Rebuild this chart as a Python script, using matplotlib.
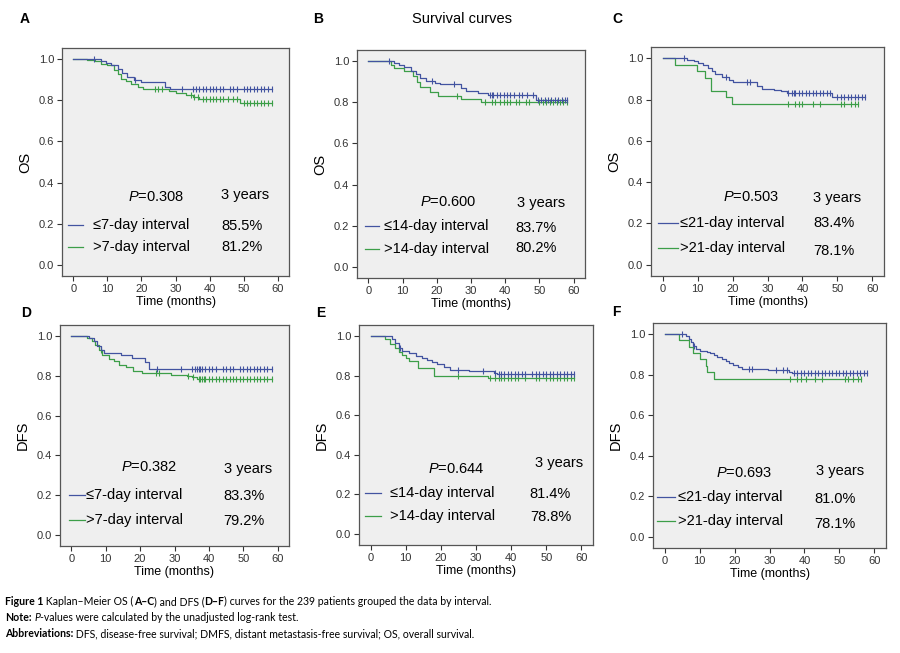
import numpy as np
import matplotlib
matplotlib.use("Agg")
import matplotlib.pyplot as plt
from matplotlib.ticker import FormatStrFormatter

plt.rcParams['font.family'] = ['Liberation Sans', 'DejaVu Sans']
plt.rcParams['mathtext.fontset'] = 'custom'
plt.rcParams['mathtext.rm'] = 'Liberation Sans'
plt.rcParams['mathtext.it'] = 'Liberation Sans:italic'

BLUE = '#4253a0'
GREEN = '#3c9e48'

# ---- data (event times, survival after event, censor times)
# A : OS, 7-day interval
a_blue_t = [8, 9.5, 11, 13, 14.3, 15.8, 17.7, 20, 27, 28.4]
a_blue_s = [0.99, 0.98, 0.97, 0.955, 0.935, 0.915, 0.90, 0.89, 0.865, 0.855]
a_blue_c = [6, 18, 32, 35, 36, 37, 38, 39, 40, 41, 42, 43, 44, 46, 47, 48,
            50, 51, 52, 53, 54, 55, 56, 57, 58.3]
a_green_t = [4, 6.5, 8, 10, 12, 13, 14, 15.5, 17, 19, 20.5, 28, 30, 33, 35, 37, 49]
a_green_s = [0.995, 0.99, 0.975, 0.97, 0.95, 0.93, 0.905, 0.895, 0.88, 0.865,
             0.855, 0.845, 0.835, 0.825, 0.815, 0.805, 0.788]
a_green_c = [24, 25, 26, 34.5, 35.5, 36.5, 38, 39, 40, 41, 42, 43, 44, 45.5, 47, 48,
             50, 51, 52, 53, 54, 55, 56, 57, 58.3]

# B : OS, 14-day interval
b_blue_t = [7.5, 9, 10.5, 12.5, 14, 15, 17, 19.5, 21, 27, 28.5, 32, 35, 49]
b_blue_s = [0.99, 0.98, 0.97, 0.955, 0.937, 0.92, 0.905, 0.895, 0.888, 0.87,
            0.857, 0.847, 0.837, 0.81]
b_blue_c = [6, 18.5, 25, 35.5, 36, 36.5, 37.5, 38.5, 39.5, 40.5, 41.5, 42.5, 44, 45,
            46.5, 48, 49.5, 50.5, 51.5, 52.5, 53.5, 54.5, 55.5, 56.5, 57.5, 58]
b_green_t = [6.5, 7.5, 10.5, 13, 14.2, 15.2, 18, 20.5, 27, 33]
b_green_s = [0.982, 0.965, 0.955, 0.93, 0.90, 0.875, 0.85, 0.83, 0.817, 0.803]
b_green_c = [26, 34, 36, 37, 38.5, 39.5, 40.5, 41.5, 43, 44, 46, 47, 50, 51, 52, 53,
             54, 55, 56, 57, 58]

# C : OS, 21-day interval
c_blue_t = [7, 9, 10, 11.5, 13, 14, 15, 17, 19, 20, 27, 28.5, 32, 34, 35.5, 48.5]
c_blue_s = [0.99, 0.985, 0.978, 0.968, 0.955, 0.94, 0.922, 0.912, 0.895, 0.885,
            0.868, 0.853, 0.848, 0.84, 0.834, 0.812]
c_blue_c = [6, 18, 24, 25, 36, 37, 37.5, 38, 39, 40, 41, 42, 43, 44, 45, 46, 47, 48,
            50, 51, 52, 53, 54, 55, 56, 57, 58]
c_green_t = [3.7, 9.9, 12, 13.9, 18, 19.9]
c_green_s = [0.969, 0.938, 0.906, 0.844, 0.812, 0.781]
c_green_c = [36, 38, 39, 40, 43, 45, 51, 52, 54, 55, 56]

# D : DFS, 7-day interval
d_blue_t = [5, 6.5, 7.5, 8.5, 9.5, 14.5, 17.5, 21.5, 22.5]
d_blue_s = [0.99, 0.975, 0.952, 0.93, 0.916, 0.904, 0.887, 0.869, 0.833]
d_blue_c = [25, 32, 35, 36, 36.5, 37, 37.5, 38, 39, 40, 41, 42, 44, 45, 46, 47, 49,
            50, 51, 52, 53, 54, 55, 56, 57, 58.3]
d_green_t = [4.5, 6, 7, 8, 9, 11, 12.5, 14, 16, 18, 20.5, 29, 33.5, 35, 36.5]
d_green_s = [0.99, 0.975, 0.955, 0.93, 0.905, 0.884, 0.872, 0.856, 0.843, 0.825,
             0.812, 0.804, 0.80, 0.795, 0.785]
d_green_c = [8.5, 24.5, 25.5, 34, 35.5, 37, 37.5, 38, 38.5, 39, 40, 41, 42, 43, 44,
             45, 46, 47, 48, 49, 50, 51, 52, 53, 54, 55, 56, 57, 58.3]

# E : DFS, 14-day interval
e_blue_t = [6, 7, 8, 9, 11, 13, 14.5, 16, 17.5, 19, 21, 22.5, 28, 35, 36]
e_blue_s = [0.985, 0.963, 0.94, 0.925, 0.912, 0.897, 0.886, 0.877, 0.866, 0.856,
            0.842, 0.828, 0.823, 0.814, 0.807]
e_blue_c = [8.5, 25, 32, 35.5, 36.5, 37, 38, 39, 40, 41, 42, 43, 44, 46, 47, 48, 49,
            50, 51, 52, 53, 54, 55, 56, 57, 58]
e_green_t = [4, 5.5, 7, 8, 9, 10, 11, 13.5, 18, 33.5]
e_green_s = [0.985, 0.96, 0.94, 0.921, 0.905, 0.89, 0.873, 0.84, 0.797, 0.789]
e_green_c = [25, 34, 35.5, 36.5, 37, 38, 39, 40, 41, 42, 44, 47, 48, 50, 51, 52, 53,
             54, 55, 56, 57, 58]

# F : DFS, 21-day interval
f_blue_t = [6, 7, 7.5, 8, 9, 10, 12, 13, 14, 15, 16.5, 17.5, 18.5, 19.5, 21, 22,
            29.5, 35.5, 36.5]
f_blue_s = [0.99, 0.975, 0.96, 0.94, 0.925, 0.915, 0.91, 0.905, 0.895, 0.885, 0.875,
            0.866, 0.856, 0.849, 0.84, 0.83, 0.825, 0.815, 0.808]
f_blue_c = [5, 8.5, 24, 25, 32, 34, 35, 37, 38, 39, 40, 41, 42, 43, 44, 45, 46, 47,
            48, 49, 50, 51, 52, 53, 54, 55, 56, 57, 58]
f_green_t = [4.2, 7.1, 8.0, 10.0, 11.9, 12.2, 14.0]
f_green_s = [0.969, 0.938, 0.906, 0.875, 0.844, 0.812, 0.781]
f_green_c = [36, 38, 39, 40.5, 43, 45, 51.5, 52.5, 54, 55.3, 56.2]

letters = ['A', 'B', 'C', 'D', 'E', 'F']
ylabels = ['OS', 'OS', 'OS', 'DFS', 'DFS', 'DFS']
p_values = ['0.308', '0.600', '0.503', '0.382', '0.644', '0.693']
group_blue = ['≤7-day interval', '≤14-day interval', '≤21-day interval',
              '≤7-day interval', '≤14-day interval', '≤21-day interval']
group_green = ['>7-day interval', '>14-day interval', '>21-day interval',
               '>7-day interval', '>14-day interval', '>21-day interval']
pct_blue = ['85.5%', '83.7%', '83.4%', '83.3%', '81.4%', '81.0%']
pct_green = ['81.2%', '80.2%', '78.1%', '79.2%', '78.8%', '78.1%']

curves = [
    (a_blue_t, a_blue_s, a_blue_c, a_green_t, a_green_s, a_green_c),
    (b_blue_t, b_blue_s, b_blue_c, b_green_t, b_green_s, b_green_c),
    (c_blue_t, c_blue_s, c_blue_c, c_green_t, c_green_s, c_green_c),
    (d_blue_t, d_blue_s, d_blue_c, d_green_t, d_green_s, d_green_c),
    (e_blue_t, e_blue_s, e_blue_c, e_green_t, e_green_s, e_green_c),
    (f_blue_t, f_blue_s, f_blue_c, f_green_t, f_green_s, f_green_c),
]

W, H = 900, 653
# axes boxes in pixels: left, top, right, bottom
boxes = [(62, 48, 289, 276), (357, 50, 585, 278), (651, 47, 884, 276),
         (60, 325, 289, 546), (359, 325, 593, 545), (653, 323, 886, 548)]
letter_pos = [(25, 19), (318, 19), (617, 19), (26, 313), (321, 313), (616, 312)]
# text layout inside axes (data coords):
# (p_x, p_y, yrs_x, yrs_y, line_x0, line_x1, lab_x, pct_x, row1_y, row2_y, pct1_y, pct2_y)
layouts = [
    (16.1, 0.33, 43.3, 0.34, -1.5, 2.9, 5.9, 43.6, 0.195, 0.087, 0.19, 0.087),
    (15.2, 0.316, 43.4, 0.308, -1.0, 3.0, 4.5, 43.0, 0.197, 0.087, 0.19, 0.089),
    (17.3, 0.326, 43.1, 0.323, -1.2, 4.5, 5.0, 43.1, 0.202, 0.081, 0.202, 0.068),
    (14.5, 0.341, 44.3, 0.333, -0.8, 4.1, 4.4, 44.3, 0.201, 0.076, 0.198, 0.072),
    (16.2, 0.33, 46.7, 0.358, -1.7, 3.0, 5.4, 45.3, 0.206, 0.09, 0.203, 0.088),
    (14.7, 0.316, 43.2, 0.325, -2.2, 3.0, 3.8, 42.9, 0.196, 0.076, 0.189, 0.062),
]


def km(ax, t, s, c, color):
    t = np.asarray(t, float)
    s = np.asarray(s, float)
    c = np.asarray(c, float)
    end = max(c.max(), t.max())
    x = np.r_[0, t, end]
    y = np.r_[1, s, s[-1]]
    ax.step(x, y, where='post', color=color, lw=0.9)
    idx = np.searchsorted(t, c, side='right')
    yc = np.r_[1, s][idx]
    ax.plot(c, yc, ls='none', marker='|', ms=4, mew=0.8, color=color)


fig = plt.figure(figsize=(9, 6.53), dpi=100)

for i in range(6):
    l, t, r, b = boxes[i]
    ax = fig.add_axes([l / W, 1 - b / H, (r - l) / W, (b - t) / H])
    ax.set_facecolor('#efefef')
    bt, bs, bc, gt, gs, gc = curves[i]
    km(ax, gt, gs, gc, GREEN)
    km(ax, bt, bs, bc, BLUE)
    ax.set_xlim(-3.3, 63.3)
    ax.set_ylim(-0.055, 1.055)
    ax.set_xticks(range(0, 61, 10))
    ax.set_yticks(np.arange(0, 1.01, 0.2))
    ax.yaxis.set_major_formatter(FormatStrFormatter('%.1f'))
    ax.tick_params(direction='out', length=3.5, width=0.8, labelsize=8,
                   colors='#333333', pad=2)
    for sp in ax.spines.values():
        sp.set_color('#555555')
        sp.set_linewidth(0.9)
    ax.set_xlabel('Time (months)', fontsize=9, labelpad=2)
    ax.set_ylabel(ylabels[i], fontsize=10.5, labelpad=5)

    px, py, yx, yy, lx0, lx1, labx, pctx, r1, r2, p1, p2 = layouts[i]
    ax.text(px, py, r'$\it{P}$' + '=' + p_values[i], fontsize=10.5, va='center')
    ax.text(yx, yy, '3 years', fontsize=10.5, va='center')
    ax.plot([lx0, lx1], [r1, r1], color=BLUE, lw=0.9)
    ax.plot([lx0, lx1], [r2, r2], color=GREEN, lw=0.9)
    ax.text(labx, r1, group_blue[i], fontsize=10.5, va='center')
    ax.text(labx, r2, group_green[i], fontsize=10.5, va='center')
    ax.text(pctx, p1, pct_blue[i], fontsize=10.5, va='center')
    ax.text(pctx, p2, pct_green[i], fontsize=10.5, va='center')

    lx, ly = letter_pos[i]
    fig.text(lx / W, 1 - ly / H, letters[i], fontsize=10, fontweight='bold',
             ha='center', va='center')

fig.text(462 / W, 1 - 19 / H, 'Survival curves', fontsize=10.5, ha='center', va='center')

# caption, pieces chained left to right
renderer = fig.canvas.get_renderer()
caption = [
    [('Figure 1', 'bold', 'normal'),
     (' Kaplan–Meier OS (', 'normal', 'normal'), ('A–C', 'bold', 'normal'),
     (') and DFS (', 'normal', 'normal'), ('D–F', 'bold', 'normal'),
     (') curves for the 239 patients grouped the data by interval.', 'normal', 'normal')],
    [('Note:', 'bold', 'normal'), (' ', 'normal', 'normal'), ('P', 'normal', 'italic'),
     ('-values were calculated by the unadjusted log-rank test.', 'normal', 'normal')],
    [('Abbreviations:', 'bold', 'normal'),
     (' DFS, disease-free survival; DMFS, distant metastasis-free survival; OS, overall survival.',
      'normal', 'normal')],
]
cap_y = [605, 621, 637]
for row, yb in zip(caption, cap_y):
    x = 5
    for txt, wgt, sty in row:
        tt = fig.text(x / W, 1 - yb / H, txt, fontsize=7.6, fontweight=wgt,
                      fontstyle=sty, family=['Lato', 'DejaVu Sans'], va='baseline')
        ext = tt.get_window_extent(renderer)
        x = ext.x1

fig.savefig('out.png', dpi=100)
